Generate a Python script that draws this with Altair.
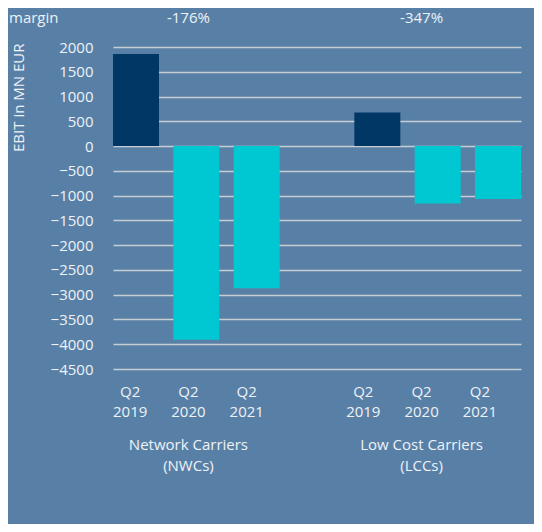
import altair as alt
import pandas as pd

# ---- data ----
slots = ["NWC Q2 2019", "NWC Q2 2020", "NWC Q2 2021", "gap",
         "LCC Q2 2019", "LCC Q2 2020", "LCC Q2 2021"]
bar_slots = ["NWC Q2 2019", "NWC Q2 2020", "NWC Q2 2021",
             "LCC Q2 2019", "LCC Q2 2020", "LCC Q2 2021"]
ebit = [1860, -3910, -2870, 680, -1160, -1070]
period_kind = ["pre-crisis", "crisis", "crisis", "pre-crisis", "crisis", "crisis"]
quarters = ["Q2", "Q2", "Q2", "Q2", "Q2", "Q2"]
years = ["2019", "2020", "2021", "2019", "2020", "2021"]

group_slots = ["NWC Q2 2020", "LCC Q2 2020"]
group_line1 = ["Network Carriers", "Low Cost Carriers"]
group_line2 = ["(NWCs)", "(LCCs)"]
margins = ["-176%", "-347%"]

y_ticks = [-4500, -4000, -3500, -3000, -2500, -2000, -1500, -1000,
           -500, 0, 500, 1000, 1500, 2000]

BG = "#5880a7"
TXT = "#eef2f6"
FONT = "Open Sans"
FS = 15

bars_df = pd.DataFrame({"slot": bar_slots, "ebit": ebit, "kind": period_kind,
                        "quarter": quarters, "year": years})
groups_df = pd.DataFrame({"slot": group_slots, "l1": group_line1,
                          "l2": group_line2, "margin": margins})

bar_x = alt.Scale(domain=slots, range=[6, 414], paddingInner=0.2375, paddingOuter=0)
lab_x = alt.Scale(domain=slots, range=[-6, 402], paddingInner=0, paddingOuter=0)

bars = alt.Chart(bars_df).mark_bar().encode(
    x=alt.X("slot:N", scale=bar_x, axis=None),
    y=alt.Y("ebit:Q",
            scale=alt.Scale(domain=[-4500, 2000], nice=False, zero=True),
            axis=alt.Axis(values=y_ticks, format="d", title="EBIT in MN EUR",
                          grid=True, ticks=False, domain=False, labelPadding=14,
                          titleAngle=-90, titleX=-89, titleY=-4,
                          titleAlign="right", titleBaseline="middle")),
    color=alt.Color("kind:N",
                    scale=alt.Scale(domain=["pre-crisis", "crisis"],
                                    range=["#003764", "#00c8d3"]),
                    legend=None),
)


def text_layer(df, field, yv, **kw):
    return alt.Chart(df).mark_text(font=FONT, fontSize=FS, color=TXT,
                                   baseline="middle", **kw).encode(
        x=alt.X("slot:N", scale=lab_x, axis=None),
        y=alt.value(yv),
        text=f"{field}:N",
    )


q_row = text_layer(bars_df, "quarter", 345)
y_row = text_layer(bars_df, "year", 365)
g1_row = text_layer(groups_df, "l1", 398)
g2_row = text_layer(groups_df, "l2", 419)
m_row = text_layer(groups_df, "margin", -29)

margin_title = alt.Chart(pd.DataFrame({"t": ["margin"]})).mark_text(
    font=FONT, fontSize=FS, color=TXT, align="left", baseline="middle"
).encode(x=alt.value(-98), y=alt.value(-29), text="t:N")

chart = alt.layer(bars, q_row, y_row, g1_row, g2_row, m_row, margin_title).resolve_scale(
    x="independent"
).properties(
    width=422, height=322,
    background=BG,
    autosize=alt.AutoSizeParams(type="none"),
    padding={"left": 99, "top": 39, "right": 5, "bottom": 155},
).configure_view(stroke=None).configure_axis(
    labelFont=FONT, labelFontSize=FS, labelColor=TXT,
    titleFont=FONT, titleFontSize=FS, titleColor=TXT, titleFontWeight="normal",
    gridColor="#c8cdd3", gridWidth=1.6, gridOpacity=1,
)

chart.save("out.html", embed_options={"renderer": "svg", "actions": False})
